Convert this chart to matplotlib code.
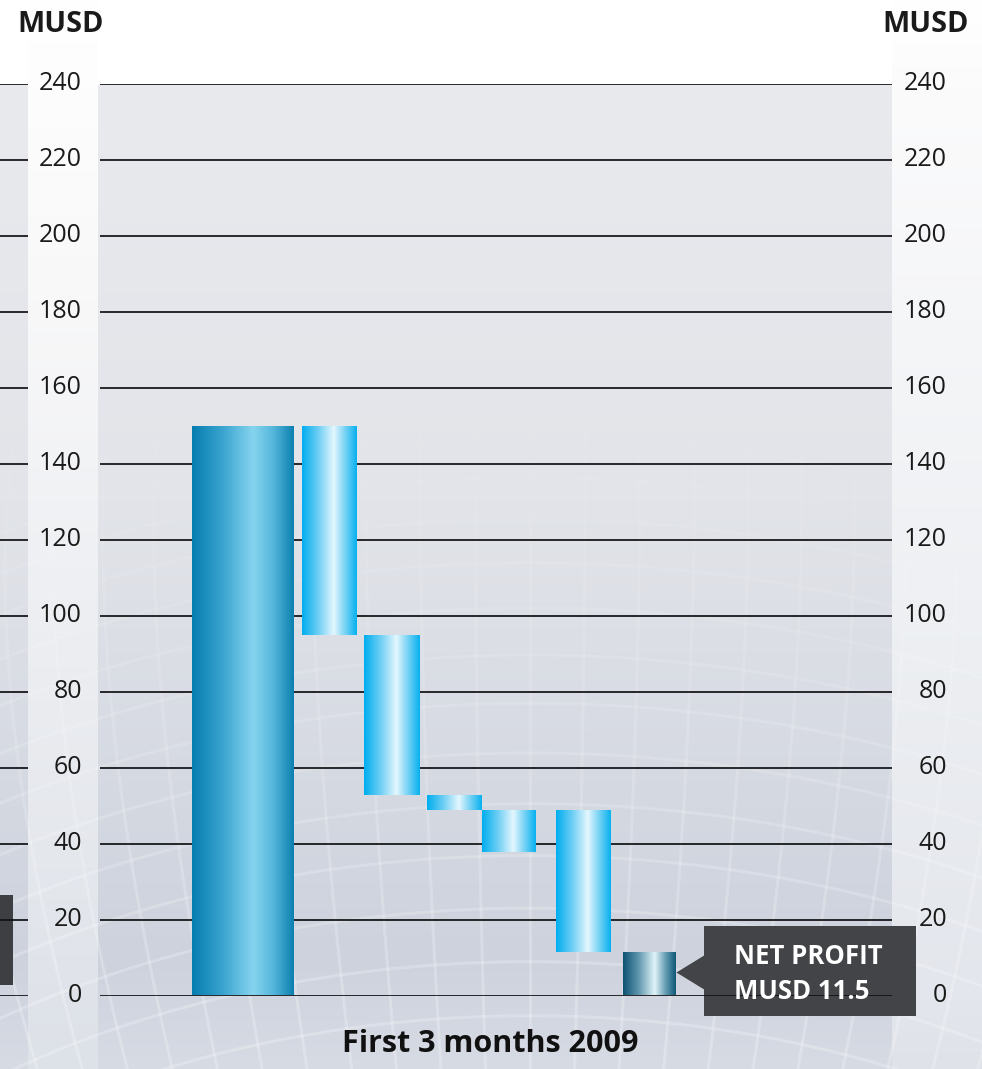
import numpy as np
import matplotlib
matplotlib.use("Agg")
import matplotlib.pyplot as plt
from matplotlib.colors import LinearSegmentedColormap, to_rgb
from matplotlib.collections import LineCollection
from matplotlib.patches import Rectangle, Polygon
from matplotlib.transforms import blended_transform_factory, ScaledTranslation

plt.rcParams['font.family'] = ['Open Sans', 'DejaVu Sans']

# waterfall steps in MUSD (top and bottom of each floating bar)
bar_top = [150.0, 150.0, 94.8, 52.9, 48.8, 48.8, 11.5]
bar_bottom = [0.0, 94.8, 52.9, 48.8, 37.9, 11.5, 0.0]
bar_kind = ["total", "step", "step", "step", "step", "step", "result"]
y_ticks = [0, 20, 40, 60, 80, 100, 120, 140, 160, 180, 200, 220, 240]
net_profit = bar_top[-1]
unit_label = "MUSD"
period_label = "First 3 months 2009"

# layout in figure pixels
W, H = 982, 1069
PLOT_TOP, PLOT_BOTTOM, PLOT_RIGHT = 84, 995.5, 892
BAND_X0, BAND_X1 = 28, 98
bar_left = [192, 302, 364, 427, 482, 556, 623]
bar_width = [102, 55, 56, 55, 54, 55, 53]

fig = plt.figure(figsize=(W / 100, H / 100), dpi=100)

# ---- background: grey panel, light label column, globe grid ----
bg = fig.add_axes([0, 0, 1, 1])
bg.set_xlim(0, W)
bg.set_ylim(H, 0)
bg.axis("off")


def ramp(stops, y):
    ys = [s[0] for s in stops]
    cols = np.array([to_rgb(s[1]) for s in stops])
    return np.stack([np.interp(y, ys, cols[:, k]) for k in range(3)], -1)


rows = np.arange(H) + 0.5
outside = ramp([(0, "#ffffff"), (90, "#fbfbfc"), (600, "#eef0f3"),
                (1000, "#e3e6ec"), (1069, "#dfe2e9")], rows)
panel = ramp([(0, "#ffffff"), (PLOT_TOP, "#ffffff"), (PLOT_TOP + 1, "#e9eaee"),
              (500, "#e2e4e9"), (960, "#cdd2dd"), (1069, "#d7dbe4")], rows)
band = ramp([(0, "#ffffff"), (300, "#f8f8f9"), (700, "#eaecf0"),
             (1069, "#dde1e8")], rows)
img = np.repeat(outside[:, None, :], W, axis=1)
img[:, :PLOT_RIGHT] = panel[:, None, :]
img[:, BAND_X0:BAND_X1] = band[:, None, :]
bg.imshow(img, extent=[0, W, H, 0], aspect="auto", interpolation="bilinear", zorder=0)

# faint orthographic globe grid behind everything
cx, cy, R = 530, 1180, 1050
phi0 = np.radians(-42)
segs, alphas = [], []


def add_curve(lat, lon):
    cosc = np.sin(phi0) * np.sin(lat) + np.cos(phi0) * np.cos(lat) * np.cos(lon)
    X = cx + R * np.cos(lat) * np.sin(lon)
    Y = cy - R * (np.cos(phi0) * np.sin(lat) - np.sin(phi0) * np.cos(lat) * np.cos(lon))
    for i in range(len(X) - 1):
        if cosc[i] > 0 and cosc[i + 1] > 0:
            ym = 0.5 * (Y[i] + Y[i + 1])
            if -50 < ym < H + 50 and -50 < X[i] < W + 50:
                segs.append([(X[i], Y[i]), (X[i + 1], Y[i + 1])])
                alphas.append(0.02 + 0.22 * np.clip((ym - 380) / 600, 0, 1))


t = np.radians(np.linspace(-180, 180, 721))
for d in np.arange(-87, 88, 3):
    add_curve(np.full_like(t, np.radians(d)), t)
s = np.radians(np.linspace(-90, 90, 361))
for d in np.arange(-180, 180, 3):
    add_curve(s, np.full_like(s, np.radians(d)))
cols = np.ones((len(segs), 4))
cols[:, 3] = alphas
bg.add_collection(LineCollection(segs, colors=cols, linewidths=2.2, zorder=1))

# callout box with pointer and the clipped box at the left edge
bg.add_patch(Rectangle((704, 926), 212, 90, facecolor="#434447", edgecolor="none", zorder=2))
bg.add_patch(Polygon([(676.5, 972.5), (705, 955), (705, 990)], closed=True,
                     facecolor="#434447", edgecolor="none", zorder=2))
bg.add_patch(Rectangle((0, 895), 12.7, 90, facecolor="#3e3f43", edgecolor="none", zorder=2))

# ---- plotting area ----
ax = fig.add_axes([0, (H - PLOT_BOTTOM) / H, PLOT_RIGHT / W, (PLOT_BOTTOM - PLOT_TOP) / H])
ax.axis("off")

for v in y_ticks:
    ax.plot([0, BAND_X0], [v, v], color="#111114", lw=1.25, zorder=2, solid_capstyle="butt")
    ax.plot([BAND_X1 + 2, PLOT_RIGHT], [v, v], color="#111114", lw=1.25, zorder=2,
            solid_capstyle="butt")

cmaps = {
    "total": LinearSegmentedColormap.from_list(
        "total", [(0, "#067db0"), (0.3, "#3aa4cf"), (0.6, "#86d4ef"),
                  (0.8, "#55b6da"), (1, "#0c80b0")]),
    "step": LinearSegmentedColormap.from_list(
        "step", [(0, "#00aeef"), (0.3, "#6fcff4"), (0.58, "#e4f7fe"),
                 (0.75, "#8ad8f6"), (1, "#07b1ef")]),
    "result": LinearSegmentedColormap.from_list(
        "result", [(0, "#0c5173"), (0.3, "#6199ae"), (0.6, "#e0f3f8"),
                   (0.8, "#69a0b4"), (1, "#0e5777")]),
}
grad = np.linspace(0, 1, 256)[None, :]
for left, w, lo, hi, kind in zip(bar_left, bar_width, bar_bottom, bar_top, bar_kind):
    rect = ax.bar(left + w / 2, hi - lo, w, bottom=lo, color="none", edgecolor="none")[0]
    im = ax.imshow(grad, extent=[left, left + w, lo, hi], aspect="auto",
                   cmap=cmaps[kind], interpolation="bilinear", zorder=3)
    im.set_clip_path(rect)

ax.set_xlim(0, PLOT_RIGHT)
ax.set_ylim(0, 240)

# tick labels on both sides, baseline a little under each grid line
down = ScaledTranslation(0, -4.6 / 72, fig.dpi_scale_trans)
tr = blended_transform_factory(fig.transFigure, ax.transData) + down
for v in y_ticks:
    for xr in (82, 947):
        fig.text(xr / W, v, str(v), transform=tr, ha="right", va="baseline",
                 fontsize=18, color="#1a1a1a")

fig.text(60.5 / W, 1 - 32 / H, unit_label, ha="center", va="baseline",
         fontsize=20.8, fontweight="bold", color="#1a1a1a")
fig.text(925.5 / W, 1 - 32 / H, unit_label, ha="center", va="baseline",
         fontsize=20.8, fontweight="bold", color="#1a1a1a")
fig.text(490 / W, 1 - 1051.5 / H, period_label, ha="center", va="baseline",
         fontsize=22, fontweight="bold", color="#111111")

fig.text(734 / W, 1 - 964 / H, "NET PROFIT", ha="left", va="baseline",
         fontsize=18.5, fontweight="bold", color="white")
fig.text(734 / W, 1 - 999 / H, f"{unit_label} {net_profit}", ha="left", va="baseline",
         fontsize=18.5, fontweight="bold", color="white")

fig.savefig("out.png", dpi=100)
